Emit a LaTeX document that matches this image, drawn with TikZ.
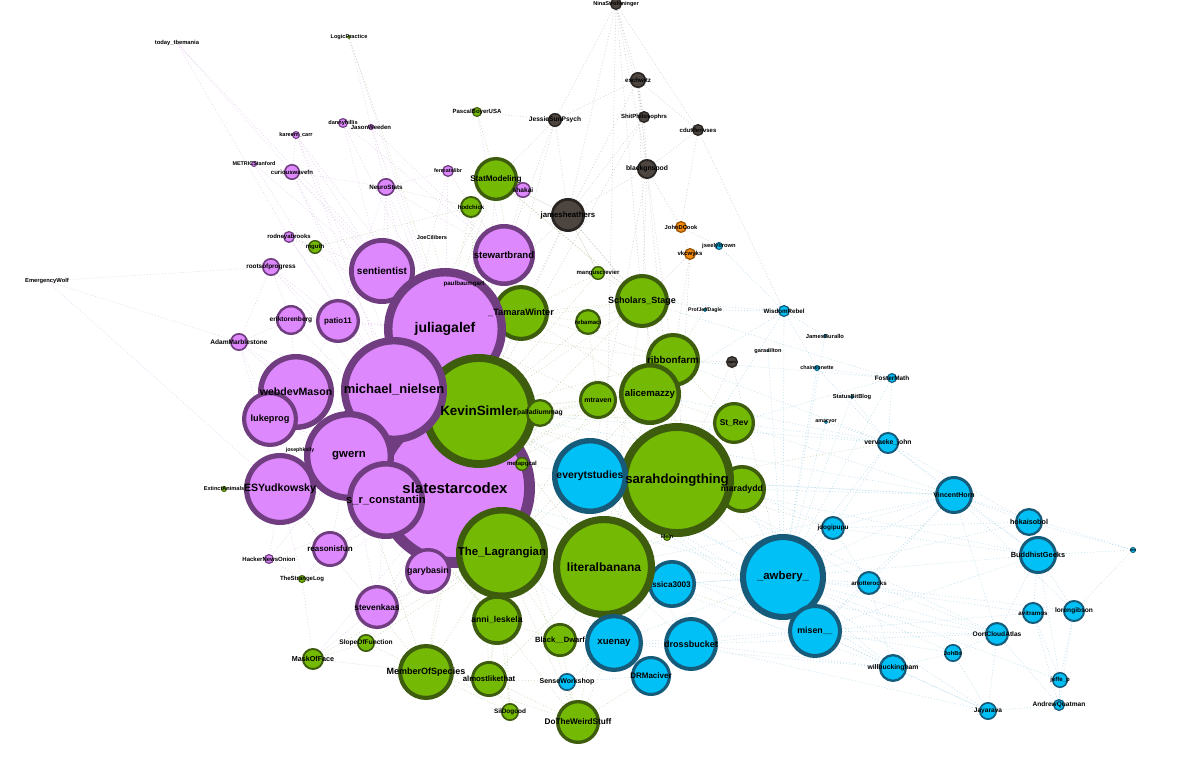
\documentclass[tikz,border=0pt]{standalone}
\usepackage{fontspec}
\setmainfont{Liberation Sans}
\pgfdeclarelayer{bglayer}
\pgfdeclarelayer{edgelayer}
\pgfdeclarelayer{nodelayer}
\pgfsetlayers{bglayer,edgelayer,nodelayer,main}
\definecolor{Pf}{RGB}{221,136,252}
\definecolor{Pd}{RGB}{112,62,128}
\definecolor{Gf}{RGB}{116,186,4}
\definecolor{Gd}{RGB}{62,92,14}
\definecolor{Bf}{RGB}{0,192,245}
\definecolor{Bd}{RGB}{22,92,122}
\definecolor{Kf}{RGB}{76,69,64}
\definecolor{Kd}{RGB}{40,36,33}
\definecolor{Of}{RGB}{245,140,12}
\definecolor{Od}{RGB}{150,82,0}
\definecolor{Pe}{RGB}{205,160,225}
\definecolor{Ge}{RGB}{150,182,110}
\definecolor{Be}{RGB}{120,188,222}
\definecolor{Ke}{RGB}{160,160,160}
\tikzset{
  lbl/.style={inner sep=0pt, text=black},
  edgeline/.style={line width=0.3pt, dash pattern=on 0.5pt off 1pt, opacity=0.45},
  pe/.style={edgeline, draw=Pe},
  ge/.style={edgeline, draw=Ge},
  be/.style={edgeline, draw=Be},
  ke/.style={edgeline, draw=Ke},
}
% id, x, y, r(px), font(pt), group, label
\newcommand\nd[7]{%
  \begin{pgfonlayer}{nodelayer}
  \node[circle, inner sep=0pt, fill=#6f, draw=#6d,
        line width={(0.13*#4+0.5)*0.5pt},
        minimum size={(#4-(0.13*#4+0.5)/2)*1pt}] (#1) at (#2,#3) {};
  \end{pgfonlayer}
  \node[lbl, font=\bfseries\fontsize{#5}{#5}\selectfont] at (#1) {#7};
}
% label drawn on the node layer (can be covered by later circles)
\newcommand\ndl[9]{%
  \begin{pgfonlayer}{nodelayer}
  \node[circle, inner sep=0pt, fill=#6f, draw=#6d,
        line width={(0.13*#4+0.5)*0.5pt},
        minimum size={(#4-(0.13*#4+0.5)/2)*1pt}] (#1) at (#2,#3) {};
  \node[lbl, font=\bfseries\fontsize{#5}{#5}\selectfont] at (#8,#9) {#7};
  \end{pgfonlayer}
}
% label-only node
\newcommand\lo[5]{%
  \node[circle, inner sep=0pt, minimum size=1pt] (#1) at (#2,#3) {};
  \node[lbl, font=\bfseries\fontsize{#4}{#4}\selectfont] at (#1) {#5};
}
\begin{document}
\begin{tikzpicture}[x=0.5pt,y=-0.5pt]
\begin{pgfonlayer}{bglayer}
\fill[white] (0,0) rectangle (1200,758);
\end{pgfonlayer}
\useasboundingbox (0,0) rectangle (1200,758);

% ---------- nodes (drawing order = stacking order) ----------
\nd{ssc}{455}{488}{80}{7.5}{P}{slatestarcodex}
\nd{sen}{382}{271}{33}{5}{P}{sentientist}
\nd{sb}{504}{255}{31}{4.8}{P}{stewartbrand}
\nd{tw}{521}{313}{28}{4.6}{G}{\_TamaraWinter}
\nd{jg}{445}{329}{61}{7}{P}{juliagalef}
\nd{ks}{479}{411}{57}{6.7}{G}{KevinSimler}
\nd{wdm}{296}{392}{38}{5.3}{P}{webdevMason}
\nd{mn}{394}{390}{53}{6.5}{P}{michael\_nielsen}
\nd{lp}{270}{419}{28}{4.6}{P}{lukeprog}
\nd{gw}{349}{456}{45}{5.7}{P}{gwern}
\nd{esy}{280}{489}{36}{5.3}{P}{ESYudkowsky}
\nd{src}{386}{500}{39}{5.6}{P}{s\_r\_constantin}
\nd{p11}{338}{321}{22}{4}{P}{patio11}
\nd{ert}{291}{320}{15}{3.3}{P}{eriktorenberg}
\nd{am}{239}{342}{9}{3.3}{P}{AdamMarblestone}
\nd{rop}{271}{267}{9}{3.2}{P}{rootsofprogress}
\nd{rab}{289}{237}{6}{3}{P}{rodneyabrooks}
\nd{cwf}{292}{172}{8}{3}{P}{curiouswavefn}
\nd{met}{254}{164}{3}{2.7}{P}{METRICStanford}
\nd{kc}{296}{135}{4}{2.8}{P}{kareem\_carr}
\nd{dh}{343}{123}{5}{2.8}{P}{dannyhillis}
\nd{jw}{371}{127}{3}{3}{P}{JasonWeeden}
\nd{ns}{386}{187}{9}{3.1}{P}{NeuroStats}
\nd{fl}{448}{171}{6}{2.7}{P}{fermatslibr}
\nd{rif}{330}{549}{18}{4}{P}{reasonisfun}
\nd{gb}{428}{571}{23}{4.4}{P}{garybasin}
\nd{sk}{377}{607}{22}{4.2}{P}{stevenkaas}
\nd{hno}{269}{559}{5}{3}{P}{HackerNewsOnion}

\nd{smod}{496}{179}{22}{4.1}{G}{StatModeling}
\nd{sh}{523}{190}{8}{3.3}{P}{shakai}
\nd{hc}{471}{207}{11}{3}{G}{hodchick}
\nd{pb}{477}{112}{5}{3}{G}{PascalBoyerUSA}
\nd{lgp}{349}{37}{2}{2.8}{G}{LogicPractice}
\nd{mg}{315}{247}{7}{3}{G}{mguth}
\nd{pm}{540}{413}{14}{3.4}{G}{palladiummag}
\nd{mp}{522}{464}{7}{3}{G}{metapgcal}
\nd{tl}{502}{553}{46}{5.7}{G}{The\_Lagrangian}
\ndl{js3}{672}{584}{24}{4.1}{B}{jessica3003}{668}{585}
\nd{lb}{604}{567}{51}{6}{G}{literalbanana}
\nd{rf}{673}{360}{27}{4.9}{G}{ribbonfarm}
\nd{ac}{650}{394}{31}{4.8}{G}{alicemazzy}
\nd{sr}{734}{423}{21}{4.2}{G}{St\_Rev}
\nd{md}{742}{489}{24}{4.4}{G}{maradydd}
\nd{sdt}{677}{480}{57}{6.6}{G}{sarahdoingthing}
\nd{mt}{598}{400}{19}{3.5}{G}{mtraven}
\nd{rb}{588}{322}{13}{3}{G}{rebamaci}
\nd{ss}{642}{301}{27}{4.5}{G}{Scholars\_Stage}
\nd{mr}{598}{273}{7}{3}{G}{manguscrevier}
\nd{al}{497}{620}{25}{4.3}{G}{anni\_leskela}
\nd{bd}{560}{640}{17}{3.8}{G}{Black\_\_Dwarf}
\nd{mos}{426}{672}{28}{4.5}{G}{MemberOfSpecies}
\nd{alt}{489}{679}{18}{3.9}{G}{almostlikethat}
\nd{sil}{510}{712}{9}{3.2}{G}{SilDogood}
\nd{dtw}{578}{722}{22}{4.1}{G}{DoTheWeirdStuff}
\nd{sof}{366}{643}{9}{3.3}{G}{SlopeOfFunction}
\nd{mof}{313}{659}{11}{3.6}{G}{MaskOfFace}
\nd{tsl}{302}{579}{4}{3}{G}{TheStrangeLog}
\nd{ea}{224}{489}{3}{2.8}{G}{ExtinctAnimals}
\nd{kl}{667}{537}{4}{2.7}{G}{klein}

\nd{ets}{590}{476}{38}{5.2}{B}{everytstudies}
\nd{xu}{614}{643}{29}{4.8}{B}{xuenay}
\nd{db}{691}{644}{27}{4.5}{B}{drossbucket}
\nd{drm}{651}{676}{20}{4}{B}{DRMaciver}
\nd{aw}{783}{577}{43}{5.7}{B}{\_awbery\_}
\nd{mi}{815}{631}{27}{4.4}{B}{misen\_\_}
\nd{jd}{833}{528}{12}{3.2}{B}{jdogipupu}
\nd{ar}{869}{583}{12}{3.1}{B}{arlotterocks}
\nd{vj}{888}{443}{11}{3.4}{B}{vervaeke\_john}
\nd{vh}{954}{495}{19}{3.5}{B}{VincentHorn}
\nd{hk}{1029}{522}{14}{3.6}{B}{hokaisobol}
\nd{bg}{1038}{555}{19}{3.7}{B}{BuddhistGeeks}
\nd{tb}{1133}{550}{3}{2}{B}{nm}
\nd{avr}{1033}{613}{11}{3.1}{B}{avitramos}
\nd{lg}{1074}{611}{11}{3.3}{B}{lorengibson}
\nd{oca}{997}{634}{12}{3.3}{B}{OortCloudAtlas}
\nd{jb}{953}{653}{9}{2.9}{B}{JohBo}
\nd{wb}{893}{668}{14}{3.4}{B}{willbuckingham}
\nd{jp}{1060}{680}{8}{3}{B}{jeffe\_p}
\nd{aq}{1059}{705}{6}{3.3}{B}{AndrewQuatman}
\nd{jay}{988}{711}{9}{3.3}{B}{Jayarava}
\nd{sw}{567}{682}{9}{3.5}{B}{SenseWorkshop}
\nd{wr}{784}{311}{6}{3.1}{B}{WisdomRebel}
\nd{fm}{892}{378}{5}{3.2}{B}{FosterMath}
\nd{chn}{817}{368}{3}{2.7}{B}{chainsonette}
\nd{pjd}{705}{310}{2}{2.6}{B}{ProfJeffDagle}
\nd{jsb}{719}{246}{4}{2.9}{B}{jseelybrown}
\nd{jbu}{825}{336}{2}{2.9}{B}{JamesBurallo}
\nd{sbb}{852}{397}{2}{2.9}{B}{StatusBitBlog}
\nd{amy}{826}{422}{2}{2.7}{B}{amaryor}
\nd{gd}{768}{351}{1}{2.8}{B}{garadilton}

\nd{nina}{616}{4}{6}{2.8}{K}{NinaStrohminger}
\nd{esch}{638}{80}{8}{3.1}{K}{eschwitz}
\nd{shp}{644}{117}{6}{3}{K}{ShitPhilosophrs}
\nd{cdu}{698}{130}{6}{3}{K}{cdutlfenvses}
\nd{bgp}{647}{169}{10}{3.4}{K}{blackgnspod}
\nd{jsp}{555}{120}{7}{3.3}{K}{JessieSunPsych}
\nd{jh}{568}{215}{17}{3.9}{K}{jamesheathers}
\nd{dg}{732}{362}{6}{2}{K}{sam}
\nd{jdc}{681}{227}{6}{2.9}{O}{JohnDCook}
\nd{vby}{690}{254}{6}{3}{O}{vkcwyks}

\lo{tt}{177}{43}{2.9}{today\_tbemania}
\lo{ew}{47}{281}{2.9}{EmergencyWolf}
\lo{jc}{432}{238}{2.8}{JoeCilibers}
\lo{pbg}{464}{284}{3.1}{paulbaumgart}
\lo{jk}{300}{450}{2.6}{josephkally}

% ---------- edges ----------
\begin{pgfonlayer}{edgelayer}
\foreach \a/\b in {ssc/jg, ssc/mn, ssc/gw, ssc/esy, ssc/src, ssc/wdm, ssc/lp, ssc/sen, ssc/sb,
  ssc/p11, ssc/ert, ssc/am, ssc/rop, ssc/cwf, ssc/ns, ssc/rif, ssc/gb, ssc/sk, ssc/hno, ssc/tsl,
  ssc/ea, ssc/mof, ssc/sof, ssc/kc, ssc/rab, jg/mn, jg/sen, jg/sb, jg/p11, jg/ert, jg/ns, jg/fl,
  jg/dh, jg/jw, jg/cwf, jg/met, jg/lgp, jg/tt, mn/gw, mn/wdm, mn/lp, mn/am, mn/rop, mn/cwf, mn/kc,
  mn/rab, mn/met, gw/esy, gw/src, gw/lp, gw/rif, gw/sk, gw/jk, gw/ea, esy/lp, esy/src, esy/hno,
  esy/ew, esy/am, am/ew, rop/am, rop/ert, wdm/ert, wdm/p11, sen/p11, sen/rab, sb/dh, sb/jw, sb/pb,
  ns/fl, ns/cwf, cwf/met, cwf/kc, sh/smod, lgp/ns, tt/cwf, tt/rab, ew/rop, sen/kc, sen/dh, p11/ns,
  lp/am, rif/tsl, sk/mof, gb/sof, sb/sh, mn/fl, src/rif, src/gb, src/sk, wdm/lp, wdm/am, gw/hno,
  sen/ns, sen/cwf, p11/rop, ert/am, jg/kc, jg/rab, sb/ns, sb/fl, mn/ns, esy/rif, esy/tsl}
  \draw[pe] (\a) -- (\b);
\foreach \a/\b in {ks/ssc, ks/jg, ks/mn, ks/tw, ks/pm, ks/mp, ks/tl, ks/lb, ks/sdt, ks/ac, ks/rf,
  ks/mt, ks/rb, ks/ss, ks/mr, ks/smod, ks/hc, ks/al, ks/mos, ks/bd, ks/sr, ks/md, ks/jc, ks/pbg,
  tl/lb, tl/al, tl/mos, tl/alt, tl/bd, tl/dtw, tl/sil, tl/gb, tl/sk, tl/sof, tl/mof, tl/ssc,
  lb/sdt, lb/ets, lb/js3, lb/xu, lb/db, lb/drm, lb/bd, lb/dtw, lb/alt, lb/kl, lb/aw, lb/mi,
  sdt/ac, sdt/rf, sdt/sr, sdt/md, sdt/ets, sdt/ss, sdt/mt, sdt/aw, sdt/jd, sdt/vj, ss/rf, ss/tw,
  ss/smod, ss/jh, ss/mr, rf/ac, rf/sr, rf/pjd, ac/mt, ac/md, smod/hc, smod/pb, smod/jh, smod/tw,
  hc/ns, hc/mg, mg/rab, mos/alt, mos/sof, mos/mof, mos/sil, alt/dtw, alt/sw, alt/sil, dtw/sw,
  dtw/xu, dtw/drm, tsl/mof, tsl/hno, sof/mof, tw/rb, tw/mr, pm/mt, mp/ets, al/alt, al/bd, bd/dtw,
  mt/rb, rb/ss, ssc/tl, ssc/al, ssc/mos, jg/tw, jg/smod, jg/hc, mn/smod, gw/tl, src/al, esy/mos,
  lb/sr, lb/md, tl/ets, ks/ets, ks/lgp, sdt/kl, mr/jh, tl/mt, tl/ac, lb/ac, lb/rf, lb/ss, ssc/sdt,
  ssc/ac, ssc/mt, ssc/ss, ssc/rf, jg/ss, jg/rf, jg/mt, mn/tl, gw/al, gw/mos, ks/alt, ks/dtw, ks/sil,
  tw/ac, tw/rf, smod/ss, pm/ac, pm/tl, mp/tl, al/dtw, mos/dtw, sdt/md, ac/sr}
  \draw[ge] (\a) -- (\b);
\foreach \a/\b in {aw/mi, aw/jd, aw/ar, aw/vj, aw/vh, aw/hk, aw/bg, aw/oca, aw/wb, aw/jb, aw/avr,
  aw/lg, aw/xu, aw/db, aw/ets, aw/js3, aw/fm, aw/wr, aw/chn, aw/amy, aw/sbb, aw/gd, aw/jbu, aw/jay,
  aw/jp, mi/wb, mi/ar, mi/oca, mi/jb, mi/jay, mi/db, mi/xu, mi/vh, mi/bg, vh/bg, vh/hk, vh/vj,
  vh/jd, vh/ar, vh/oca, vh/tb, vh/lg, bg/hk, bg/tb, bg/avr, bg/lg, bg/oca, bg/jp, bg/jd, hk/tb,
  lg/tb, lg/jp, lg/aq, avr/jp, avr/aq, oca/jay, oca/jb, oca/aq, jb/jay, wb/jay, wb/jb, jay/aq,
  jp/aq, ets/xu, ets/js3, ets/db, xu/db, xu/drm, db/drm, js3/xu, db/wb, drm/sw, vj/fm, vj/chn,
  vj/sbb, vj/amy, wr/jbu, wr/chn, wr/pjd, wr/jsb, fm/chn, sdt/wr, ss/wr, ks/vj, ks/aw, ssc/aw,
  ets/vh, sdt/vh, ets/wb, lb/vh, md/vh, sr/fm, ac/wr, ar/wb, jd/ar, vj/jd, db/jay, mi/avr, ar/oca,
  jd/hk, sdt/bg, ets/mi, tl/xu, sw/xu, ks/mi, ks/vh, ssc/mi, lb/wb, lb/oca, sdt/ar, sdt/oca,
  md/jd, md/aw, sr/vj, sr/vh, ac/vj, rf/vj, rf/fm, ss/fm, db/oca, xu/wb, js3/aw, vj/hk, vj/bg}
  \draw[be] (\a) -- (\b);
\foreach \a/\b in {nina/esch, nina/jsp, nina/jh, nina/shp, nina/cdu, nina/bgp, esch/shp, esch/cdu,
  esch/bgp, esch/jsp, esch/jh, shp/bgp, shp/jh, cdu/bgp, cdu/jdc, cdu/wr, bgp/jh, bgp/jdc, bgp/ss,
  jsp/jh, jsp/smod, jsp/pb, jsp/ks, jh/ks, jh/smod, jh/ss, jh/tw, jh/mr, jh/jg, bgp/rf, esch/ac,
  nina/ss, jdc/vby, jdc/jsb, vby/ss, vby/rf, vby/sdt, dg/rf, dg/sdt, dg/aw, jsp/sb, shp/ks,
  nina/lb, esch/sdt, bgp/ets}
  \draw[ke] (\a) -- (\b);
\end{pgfonlayer}
\end{tikzpicture}
\end{document}
